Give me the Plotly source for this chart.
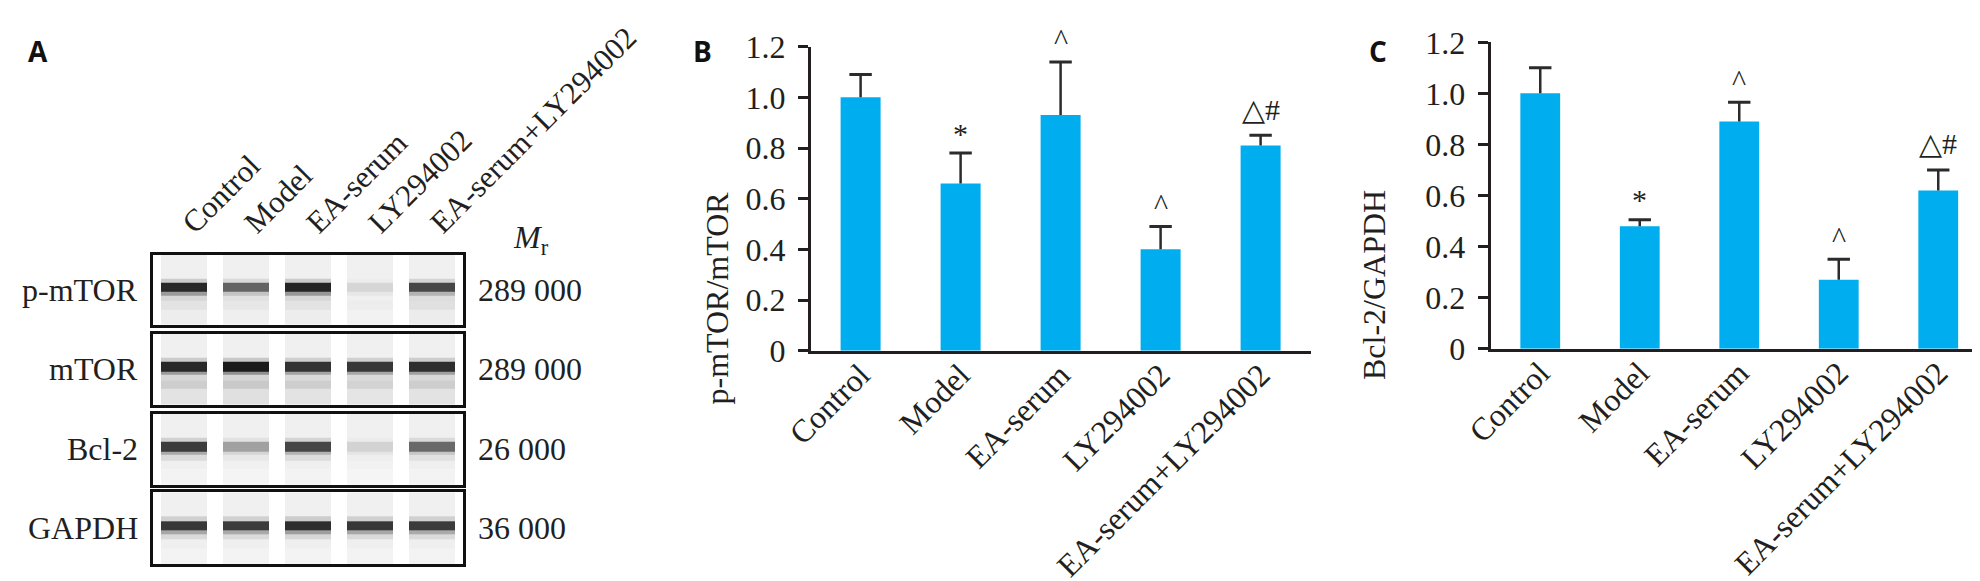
import plotly.graph_objects as go

groups = ["Control", "Model", "EA-serum", "LY294002", "EA-serum+LY294002"]

# panel B: p-mTOR/mTOR (mean and upper error)
ptor_mean = [1.00, 0.66, 0.93, 0.40, 0.81]
ptor_sd = [0.09, 0.12, 0.21, 0.09, 0.04]
ptor_marks = ["", "*", "^", "^", "△#"]

# panel C: Bcl-2/GAPDH
bcl2_mean = [1.00, 0.48, 0.89, 0.27, 0.62]
bcl2_sd = [0.10, 0.025, 0.075, 0.08, 0.08]
bcl2_marks = ["", "*", "^", "^", "△#"]

y_ticks = [0, 0.2, 0.4, 0.6, 0.8, 1.0, 1.2]
y_ticktext = ["0", "0.2", "0.4", "0.6", "0.8", "1.0", "1.2"]

# panel A: western blot, band darkness per lane (0 blank .. 1 black)
blot_names = ["p-mTOR", "mTOR", "Bcl-2", "GAPDH"]
blot_mr = ["289 000", "289 000", "26 000", "36 000"]
band_ptor = [0.88, 0.62, 0.90, 0.20, 0.72]
band_mtor = [0.88, 0.95, 0.82, 0.80, 0.85]
band_bcl2 = [0.78, 0.42, 0.72, 0.22, 0.60]
band_gapdh = [0.80, 0.78, 0.85, 0.80, 0.78]
smear_ptor = [0.12, 0.10, 0.12, 0.06, 0.14]
smear_mtor = [0.25, 0.28, 0.25, 0.22, 0.25]
smear_bcl2 = [0.05, 0.04, 0.05, 0.03, 0.05]
smear_gapdh = [0.05, 0.05, 0.05, 0.05, 0.05]

W, H = 1980, 581
SERIF = "Liberation Serif"
SANS = "Open Sans"
INK = "#231f20"
BLUE = "#00aeef"
# how far each significance mark sits above its error cap (px)
MARK_SHIFT = {"*": 20, "^": 22, "△#": 26}


def px(x):
    return x / W


def py(y):
    return 1 - y / H


fig = go.Figure()
layout = {}
annotations = []

# ---------- panel A : blots ----------
bands = [band_ptor, band_mtor, band_bcl2, band_gapdh]
smears = [smear_ptor, smear_mtor, smear_bcl2, smear_gapdh]
boxes = [(246.7, 316.7), (325.7, 396.7), (405.7, 476.7), (484.3, 556.0)]
row_edges = [0, 0.22, 0.34, 0.42, 0.47, 0.60, 0.66, 1.0]
greys = [[0, "#f7f7f7"], [0.3, "#c6c6c6"], [0.7, "#4a4a4a"], [1, "#111111"]]

for i, (band, smear) in enumerate(zip(bands, smears)):
    n = i + 1
    z = [
        [s * 0.5 for s in smear],
        smear,
        [b * 0.22 for b in band],
        [b * 0.5 for b in band],
        band,
        [b * 0.3 for b in band],
        [0.04] * 5,
    ]
    fig.add_trace(go.Heatmap(
        x=groups, y=row_edges, z=z, xgap=16,
        colorscale=greys, zmin=0, zmax=1, showscale=False,
        hoverinfo="skip", xaxis=f"x{n}", yaxis=f"y{n}",
    ))
    top, bot = boxes[i]
    layout[f"xaxis{n}"] = dict(
        domain=[px(145), px(455)], anchor=f"y{n}", automargin=False,
        range=[-0.5, 4.5], showline=True, mirror=True, linecolor="#111",
        linewidth=2.5, showgrid=False, zeroline=False, ticks="",
        showticklabels=(n == 1), side="top", tickangle=-45,
        tickfont=dict(family=SERIF, size=31, color=INK),
    )
    layout[f"yaxis{n}"] = dict(
        domain=[py(bot), py(top)], anchor=f"x{n}", range=[0, 1],
        automargin=False, showline=True, mirror=True, linecolor="#111",
        linewidth=2.5, showgrid=False, zeroline=False, ticks="",
        showticklabels=False,
    )
    mid = (top + bot) / 2
    annotations.append(dict(
        x=px(132), y=py(mid), xref="paper", yref="paper", xanchor="right",
        yanchor="middle", text=blot_names[i], showarrow=False,
        font=dict(family=SERIF, size=32, color=INK),
    ))
    annotations.append(dict(
        x=px(468), y=py(mid), xref="paper", yref="paper", xanchor="left",
        yanchor="middle", text=blot_mr[i], showarrow=False,
        font=dict(family=SERIF, size=32, color=INK),
    ))

annotations.append(dict(
    x=px(503), y=py(232), xref="paper", yref="paper", xanchor="left",
    yanchor="middle", text="<i>M</i><sub>r</sub>", showarrow=False,
    font=dict(family=SERIF, size=32, color=INK),
))

# ---------- panels B and C : bars ----------
panels = [
    (5, ptor_mean, ptor_sd, ptor_marks, (802.6, 1302.6), (38.7, 342.7),
     "p-mTOR/mTOR", 708, 182),
    (6, bcl2_mean, bcl2_sd, bcl2_marks, (1482.5, 1980), (34.3, 340.7),
     "Bcl-2/GAPDH", 1386, 180),
]

for n, mean, sd, marks, (x0, x1), (ytop, ybot), title, tx, ty in panels:
    tops = [m + s for m, s in zip(mean, sd)]
    fig.add_trace(go.Bar(
        x=groups, y=mean, marker=dict(color=BLUE, line=dict(width=0)),
        width=0.4, xaxis=f"x{n}", yaxis=f"y{n}", hoverinfo="skip",
    ))
    fig.add_trace(go.Scatter(
        x=groups, y=tops, mode="markers", xaxis=f"x{n}", yaxis=f"y{n}",
        marker=dict(symbol="line-ew", size=16,
                    line=dict(width=3, color="#2b2b2b")),
        error_y=dict(type="data", symmetric=False, array=[0] * 5,
                     arrayminus=sd, width=0, thickness=2.5,
                     color="#2b2b2b"),
        hoverinfo="skip",
    ))
    layout[f"xaxis{n}"] = dict(
        domain=[px(x0), px(x1)], anchor=f"y{n}", range=[-0.5, 4.5],
        automargin=False, showline=True, linecolor=INK, linewidth=2.5,
        ticks="", showgrid=False, zeroline=False, tickangle=-45,
        ticklabelstandoff=-10,
        tickfont=dict(family=SERIF, size=32, color=INK),
    )
    layout[f"yaxis{n}"] = dict(
        domain=[py(ybot), py(ytop)], anchor=f"x{n}", range=[0, 1.2],
        automargin=False, tickvals=y_ticks, ticktext=y_ticktext,
        showline=True, linecolor=INK, linewidth=2.5, ticks="outside",
        ticklen=10, tickwidth=2.5, tickcolor=INK, showgrid=False,
        zeroline=False, ticklabelstandoff=6,
        tickfont=dict(family=SERIF, size=32, color=INK),
    )
    annotations.append(dict(
        x=px(tx), y=py(ty), xref="paper", yref="paper", text=title,
        textangle=-90, showarrow=False,
        font=dict(family=SERIF, size=32, color=INK),
    ))
    for g, t, mk in zip(groups, tops, marks):
        if mk:
            annotations.append(dict(
                x=g, y=t, xref=f"x{n}", yref=f"y{n}", text=mk,
                showarrow=False, yanchor="middle", yshift=MARK_SHIFT[mk],
                font=dict(family=SERIF, size=30, color=INK),
            ))

# panel letters
for letter, cx in [("A", 17.8), ("B", 694.7), ("C", 1380.8)]:
    annotations.append(dict(
        x=px(cx), y=py(21.5), xref="paper", yref="paper",
        text=f"<b>{letter}</b>", showarrow=False,
        font=dict(family=SANS, size=28, color="#111"),
    ))

fig.update_layout(
    width=W, height=H, margin=dict(l=0, r=0, t=0, b=0),
    paper_bgcolor="white", plot_bgcolor="white", showlegend=False,
    annotations=annotations, **layout,
)

fig.write_html("out.html")
